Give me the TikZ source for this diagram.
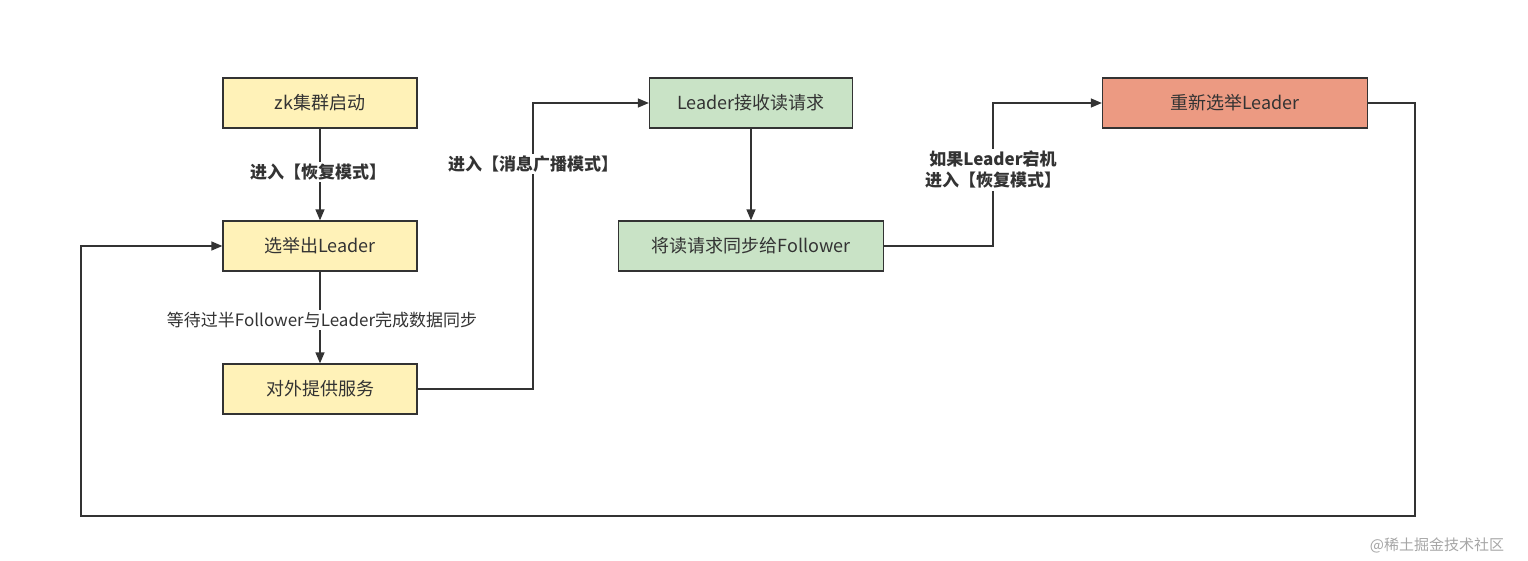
\documentclass[tikz,border=0pt]{standalone}
\usepackage{fontspec}
\setmainfont{Noto Sans CJK SC}
\usetikzlibrary{arrows.meta}
\definecolor{yf}{HTML}{FFF2B8}
\definecolor{gf}{HTML}{C9E3C6}
\definecolor{rf}{HTML}{EC9A82}
\definecolor{ln}{HTML}{333333}
\begin{document}
\begin{tikzpicture}[x=1pt,y=-1pt,
  box/.style={draw=ln,line width=1.3pt,minimum height=50pt,inner sep=0pt,font=\fontsize{18}{22}\selectfont,text=ln},
  yb/.style={box,fill=yf,minimum width=194pt},
  arr/.style={draw=ln,line width=1.3pt,-{Triangle[length=11pt,width=9pt]}},
  lab/.style={font=\fontsize{17}{21}\selectfont\bfseries,text=ln,fill=white,inner sep=2pt,align=center}]
\useasboundingbox (0,0) rectangle (1528,560);
\node[yb] (zk) at (320,103) {zk集群启动};
\node[yb] (el) at (320,246) {选举出Leader};
\node[yb] (sv) at (320,389) {对外提供服务};
\node[box,fill=gf,minimum width=203pt] (lr) at (751,103) {Leader接收读请求};
\node[box,fill=gf,minimum width=265pt] (sy) at (751,246) {将读请求同步给Follower};
\node[box,fill=rf,minimum width=265pt] (re) at (1235,103) {重新选举Leader};
\coordinate (c1) at (533,389); \coordinate (c2) at (533,103);
\coordinate (d1) at (993,246); \coordinate (d2) at (993,103);
\coordinate (e1) at (1415,103); \coordinate (e2) at (1415,516);
\coordinate (e3) at (81,516); \coordinate (e4) at (81,246);
\draw[arr] (zk) -- (el);
\draw[arr] (el) -- (sv);
\draw[arr] (sv.east) -- (c1) -- (c2) -- (lr.west);
\draw[arr] (lr) -- (sy);
\draw[arr] (sy.east) -- (d1) -- (d2) -- (re.west);
\draw[arr] (re.east) -- (e1) -- (e2) -- (e3) -- (e4) -- (el.west);
\node[lab] (l1) at (318,172) {进入【恢复模式】};
\node[lab,font=\fontsize{17}{21}\selectfont,text=ln] (l2) at (322,320) {等待过半Follower与Leader完成数据同步};
\node[lab] (l3) at (533,164) {进入【消息广播模式】};
\node[lab] (l4) at (993,170) {如果Leader宕机\\进入【恢复模式】};
\node[font=\fontsize{15}{18}\selectfont,text=gray!70] (wm) at (1437,545) {@稀土掘金技术社区};
\end{tikzpicture}
\end{document}
